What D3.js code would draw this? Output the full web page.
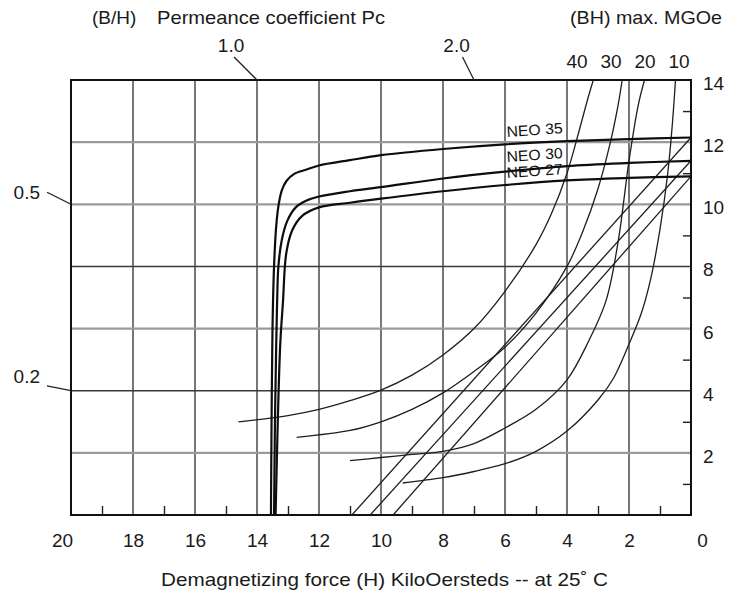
<!DOCTYPE html>
<html><head><meta charset="utf-8">
<script src="https://cdn.jsdelivr.net/npm/d3@7"></script>
<style>
html,body{margin:0;padding:0;background:#fff;}
svg{display:block;font-family:"Liberation Sans",Arial,Helvetica,sans-serif;}
</style></head><body>
<svg id="chart" width="730" height="597"></svg>
<script>
// ---------------- data ----------------
const hMajorTicks = [20,18,16,14,12,10,8,6,4,2,0];
const hMinorTicks = [19,17,15,13,11,9,7,5,3,1];
const bMajorTicks = [2,4,6,8,10,12,14];
const bMinorTicks = [1,3,5,7,9,11,13];
const hGrid = [18,16,14,12,10,8,6,4,2];
const bGrid = [2,4,6,8,10,12];

// demagnetization curves  [H (kOe), B (kG)]
const neoNames = ["NEO 35","NEO 30","NEO 27"];
const neo35 = [[13.55,0],[13.53,3],[13.5,6],[13.45,8],[13.38,9.3],[13.3,10.0],[13.2,10.45],[13.05,10.75],[12.8,10.98],[12.4,11.12],[12,11.25],[11,11.42],[10,11.58],[8,11.78],[6,11.93],[4,12.03],[2,12.1],[0,12.15]];
const neo30 = [[13.45,0],[13.42,3],[13.38,5.5],[13.35,6.9],[13.31,8.0],[13.2,8.85],[13.03,9.45],[12.75,9.9],[12.4,10.12],[12,10.25],[11,10.42],[10,10.55],[8,10.83],[6,11.05],[4,11.23],[2,11.33],[0,11.4]];
const neo27 = [[13.4,0],[13.33,3],[13.25,5.5],[13.16,6.9],[13.06,8.4],[12.87,9.15],[12.55,9.62],[12,9.9],[11,10.05],[10,10.18],[8,10.42],[6,10.62],[4,10.77],[2,10.85],[0,10.9]];

// straight load lines
const line35 = [[10.94,0],[0,12.15]];
const line30 = [[10.35,0],[0,11.4]];
const line27 = [[9.61,0],[0,10.9]];

// (BH)max energy curves
const bhLabels = ["40","30","20","10"];
const bh40 = [[14.6,3.0],[13,3.2],[12,3.4],[11,3.68],[10,4.02],[9,4.5],[8,5.15],[7,6.0],[6,7.2],[5,8.7],[4.5,9.7],[4,11.0],[3.6,12.4],[3.3,13.5],[3.15,14]];
const bh30 = [[12.72,2.5],[11,2.72],[10,3.0],[9,3.4],[8,3.93],[7,4.62],[6,5.4],[5,6.5],[4,8.0],[3.5,9.1],[3,10.5],[2.6,12.0],[2.35,13.2],[2.22,14]];
const bh20 = [[11,1.75],[10,1.85],[9,1.95],[8,2.05],[7,2.3],[6,2.8],[5,3.4],[4,4.35],[3.3,5.6],[2.74,6.9],[2.35,8.8],[2.0,11.4],[1.7,13.2],[1.5,14]];
const bh10 = [[9.3,1.03],[8,1.2],[7,1.4],[6,1.65],[5,2.05],[4,2.7],[3,3.7],[2.5,4.4],[2,5.5],[1.6,6.5],[1.3,7.6],[1.0,9.2],[0.75,11.0],[0.6,12.6],[0.5,14]];

// permeance coefficients (B/H)
const permeanceValues = [1.0, 2.0, 0.5, 0.2];
const permeanceLabels = ["1.0","2.0","0.5","0.2"];

// ---------------- layout ----------------
const L = 71, R = 691, T = 80, B = 515;
const svg = d3.select("#chart");
const x = d3.scaleLinear().domain([20,0]).range([L,R]);
const y = d3.scaleLinear().domain([0,14]).range([B,T]);
const FS = 19;

svg.append("defs").append("clipPath").attr("id","plot")
  .append("rect").attr("x",L).attr("y",T).attr("width",R-L).attr("height",B-T);

// grid
const gGrid = svg.append("g");
gGrid.selectAll("line.v").data(hGrid).join("line")
  .attr("x1",d=>x(d)).attr("x2",d=>x(d)).attr("y1",y(0)).attr("y2",y(14))
  .attr("stroke","#4a4a4a").attr("stroke-width",1.5);
const lightRows = new Set([12,10,6,2]);
gGrid.selectAll("line.h").data(bGrid).join("line")
  .attr("x1",x(20)).attr("x2",x(0)).attr("y1",d=>y(d)).attr("y2",d=>y(d))
  .attr("stroke",d=>lightRows.has(d)?"#9a9a9a":"#3a3a3a")
  .attr("stroke-width",d=>lightRows.has(d)?2.2:1.5);

// axes
const axB = svg.append("g").attr("transform",`translate(0,${B})`)
  .call(d3.axisBottom(x).tickValues(hMajorTicks).tickSize(0).tickPadding(19).tickFormat(d3.format("d")));
const axBm = svg.append("g").attr("transform",`translate(0,${B})`)
  .call(d3.axisBottom(x).tickValues(hMinorTicks).tickSize(-9).tickFormat(""));
const axR = svg.append("g").attr("transform",`translate(${R},0)`)
  .call(d3.axisRight(y).tickValues(bMajorTicks).tickSize(0).tickPadding(12).tickFormat(d3.format("d")));
const axRm = svg.append("g").attr("transform",`translate(${R},0)`)
  .call(d3.axisRight(y).tickValues(bMinorTicks).tickSize(-8).tickFormat(""));
[axB,axBm,axR,axRm].forEach(g=>{
  g.select(".domain").remove();
  g.selectAll("line").attr("stroke","#222").attr("stroke-width",1.4);
  g.selectAll("text").attr("font-size",FS).attr("font-family","Liberation Sans, Arial, sans-serif").attr("fill","#1a1a1a");
});
axR.selectAll("text").attr("dy","0.5em");
// outermost bottom labels sit slightly outside their ticks
axB.selectAll(".tick text").attr("dx",d=> d===20 ? -9 : (d===0 ? 11 : 0));

// frame
svg.append("rect").attr("x",L).attr("y",T).attr("width",R-L).attr("height",B-T)
  .attr("fill","none").attr("stroke","#111").attr("stroke-width",2);

const plot = svg.append("g").attr("clip-path","url(#plot)");
const smooth = d3.line().x(d=>x(d[0])).y(d=>y(d[1])).curve(d3.curveCatmullRom.alpha(0.5));
const straight = d3.line().x(d=>x(d[0])).y(d=>y(d[1]));

// energy curves
[bh40,bh30,bh20,bh10].forEach(c=>{
  plot.append("path").attr("d",smooth(c)).attr("fill","none").attr("stroke","#1e1e1e").attr("stroke-width",1.3);
});
// load lines
[line35,line30,line27].forEach(c=>{
  plot.append("path").attr("d",straight(c)).attr("fill","none").attr("stroke","#1e1e1e").attr("stroke-width",1.3);
});
// demag curves
[neo35,neo30,neo27].forEach(c=>{
  plot.append("path").attr("d",smooth(c)).attr("fill","none").attr("stroke","#0d0d0d").attr("stroke-width",2.2);
});

// NEO labels
const neoLabelY = [137,162,178];
neoNames.forEach((n,i)=>{
  svg.append("text").attr("x",507).attr("y",neoLabelY[i])
    .attr("transform",`rotate(-4,507,${neoLabelY[i]})`)
    .attr("font-size",15).attr("fill","#111").attr("textLength",56).attr("lengthAdjust","spacingAndGlyphs").text(n);
});

// permeance leaders (extensions of B = Pc*H beyond the frame)
const labelOff = {"1.0":[-3,-5],"2.0":[-6,-5],"0.5":[-7,7],"0.2":[-7,-3]};
permeanceValues.forEach((p,i)=>{
  let hE, bE, ex, ey;
  if (p*20 <= 14) { hE = 20; bE = p*20; } else { bE = 14; hE = 14/p; }
  const px = x(hE), py = y(bE);
  const dx = px - x(0), dy = py - y(0);
  if (p*20 <= 14) { ex = px - 24; ey = py - 24*dy/dx; }
  else { ey = py - 23; ex = px - 23*dx/dy; }
  svg.append("line").attr("x1",px).attr("y1",py).attr("x2",ex).attr("y2",ey)
    .attr("stroke","#222").attr("stroke-width",1.3);
  const lab = permeanceLabels[i], o = labelOff[lab];
  svg.append("text").attr("x",ex+o[0]).attr("y",ey+o[1])
    .attr("text-anchor", p*20<=14 ? "end" : "middle")
    .attr("font-size",FS).attr("fill","#1a1a1a").text(lab);
});

// BH max labels
bhLabels.forEach((t,i)=>{
  svg.append("text").attr("x",577+i*34).attr("y",68).attr("text-anchor","middle")
    .attr("font-size",FS).attr("fill","#1a1a1a").text(t);
});

// titles
svg.append("text").attr("x",92).attr("y",24).attr("font-size",FS).attr("fill","#1a1a1a").text("(B/H)");
svg.append("text").attr("x",157).attr("y",24).attr("font-size",FS).attr("fill","#1a1a1a")
  .attr("textLength",228).attr("lengthAdjust","spacingAndGlyphs").text("Permeance coefficient Pc");
svg.append("text").attr("x",570).attr("y",24).attr("font-size",FS).attr("fill","#1a1a1a")
  .attr("textLength",152).attr("lengthAdjust","spacingAndGlyphs").text("(BH) max. MGOe");
svg.append("text").attr("x",161).attr("y",586).attr("font-size",FS).attr("fill","#1a1a1a")
  .attr("textLength",447).attr("lengthAdjust","spacingAndGlyphs").text("Demagnetizing force (H) KiloOersteds -- at 25˚ C");
</script>
</body></html>
